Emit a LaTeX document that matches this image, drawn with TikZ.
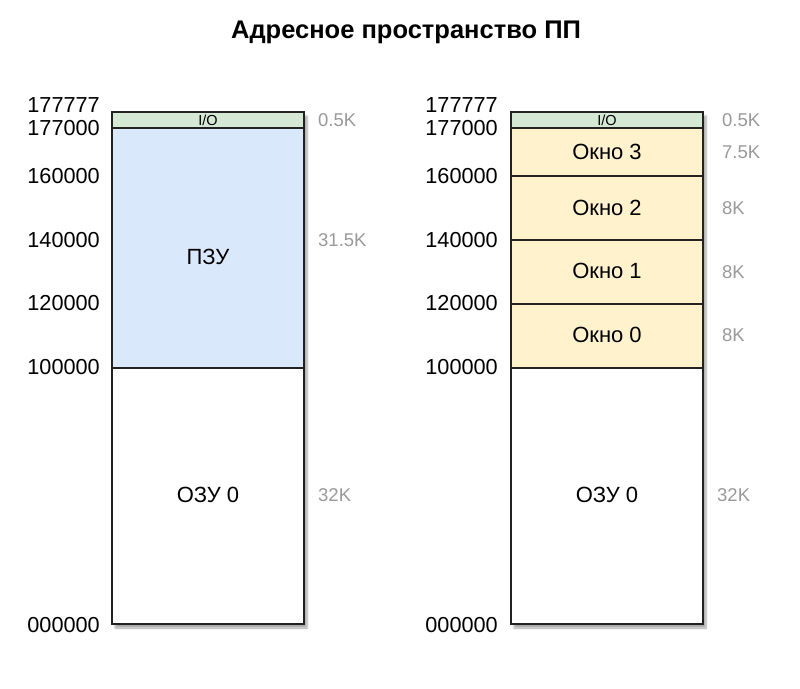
\documentclass[tikz,border=0pt]{standalone}
\usepackage{fontspec}
\setmainfont{Liberation Sans}
\usetikzlibrary{shadows.blur}
\definecolor{iog}{HTML}{D5E8D4}
\definecolor{romb}{HTML}{DAE8FC}
\definecolor{winy}{HTML}{FFF2CC}
\definecolor{sizeg}{HTML}{999999}
\definecolor{edge}{HTML}{222222}
\tikzset{
  colbox/.style={draw=edge, line width=1.5pt, fill=white,
    blur shadow={shadow xshift=3pt, shadow yshift=-4pt, shadow blur steps=6, shadow opacity=35}},
  sect/.style={draw=edge, line width=1.5pt},
  addr/.style={anchor=east, font=\fontsize{21.7}{21.7}\selectfont, inner sep=0pt},
  sz/.style={anchor=west, font=\fontsize{18.5}{18.5}\selectfont, text=sizeg, inner sep=0pt},
  lbl/.style={font=\fontsize{22}{22}\selectfont, inner sep=0pt},
  iolbl/.style={font=\fontsize{14.5}{14.5}\selectfont, inner sep=0pt},
}
\begin{document}
\begin{tikzpicture}[x=1pt,y=-1pt]
\useasboundingbox (0,0) rectangle (800,688);
\node (title) at (406,32) {\fontsize{25.5}{25.5}\selectfont\bfseries Адресное пространство ПП};

% left column
\path[colbox] (112,112) rectangle (304,624);
\fill[romb] (112,128) rectangle (304,368);
\fill[iog] (112,112) rectangle (304,128);
\draw[sect] (112,128) -- (304,128);
\draw[sect] (112,368) -- (304,368);
\draw[sect] (112,112) rectangle (304,624);
\node[iolbl] (lio) at (208,120) {I/O};
\node[lbl] (lrom) at (208,257) {ПЗУ};
\node[lbl] (lram) at (208,495) {ОЗУ 0};

\node[addr] (la1) at (100,105) {177777};
\node[addr] (la2) at (100,128) {177000};
\node[addr] (la3) at (100,176) {160000};
\node[addr] (la4) at (100,240) {140000};
\node[addr] (la5) at (100,303) {120000};
\node[addr] (la6) at (100,367) {100000};
\node[addr] (la7) at (100,625) {000000};

\node[sz] (ls1) at (318,120) {0.5K};
\node[sz] (ls2) at (318,240) {31.5K};
\node[sz] (ls3) at (318,495) {32K};

% right column
\path[colbox] (511,112) rectangle (703,624);
\fill[winy] (511,128) rectangle (703,368);
\fill[iog] (511,112) rectangle (703,128);
\foreach \yy in {128,176,240,304,368} \draw[sect] (511,\yy) -- (703,\yy);
\draw[sect] (511,112) rectangle (703,624);
\node[iolbl] (rio) at (607,120) {I/O};
\node[lbl] (rw3) at (607,152) {Окно 3};
\node[lbl] (rw2) at (607,208) {Окно 2};
\node[lbl] (rw1) at (607,271) {Окно 1};
\node[lbl] (rw0) at (607,335) {Окно 0};
\node[lbl] (rram) at (607,495) {ОЗУ 0};

\node[addr] (ra1) at (498,105) {177777};
\node[addr] (ra2) at (498,128) {177000};
\node[addr] (ra3) at (498,176) {160000};
\node[addr] (ra4) at (498,240) {140000};
\node[addr] (ra5) at (498,303) {120000};
\node[addr] (ra6) at (498,367) {100000};
\node[addr] (ra7) at (498,625) {000000};

\node[sz] (rs1) at (722,120) {0.5K};
\node[sz] (rs2) at (722,152) {7.5K};
\node[sz] (rs3) at (722,208) {8K};
\node[sz] (rs4) at (722,272) {8K};
\node[sz] (rs5) at (722,335) {8K};
\node[sz] (rs6) at (717,495) {32K};
\end{tikzpicture}
\end{document}
